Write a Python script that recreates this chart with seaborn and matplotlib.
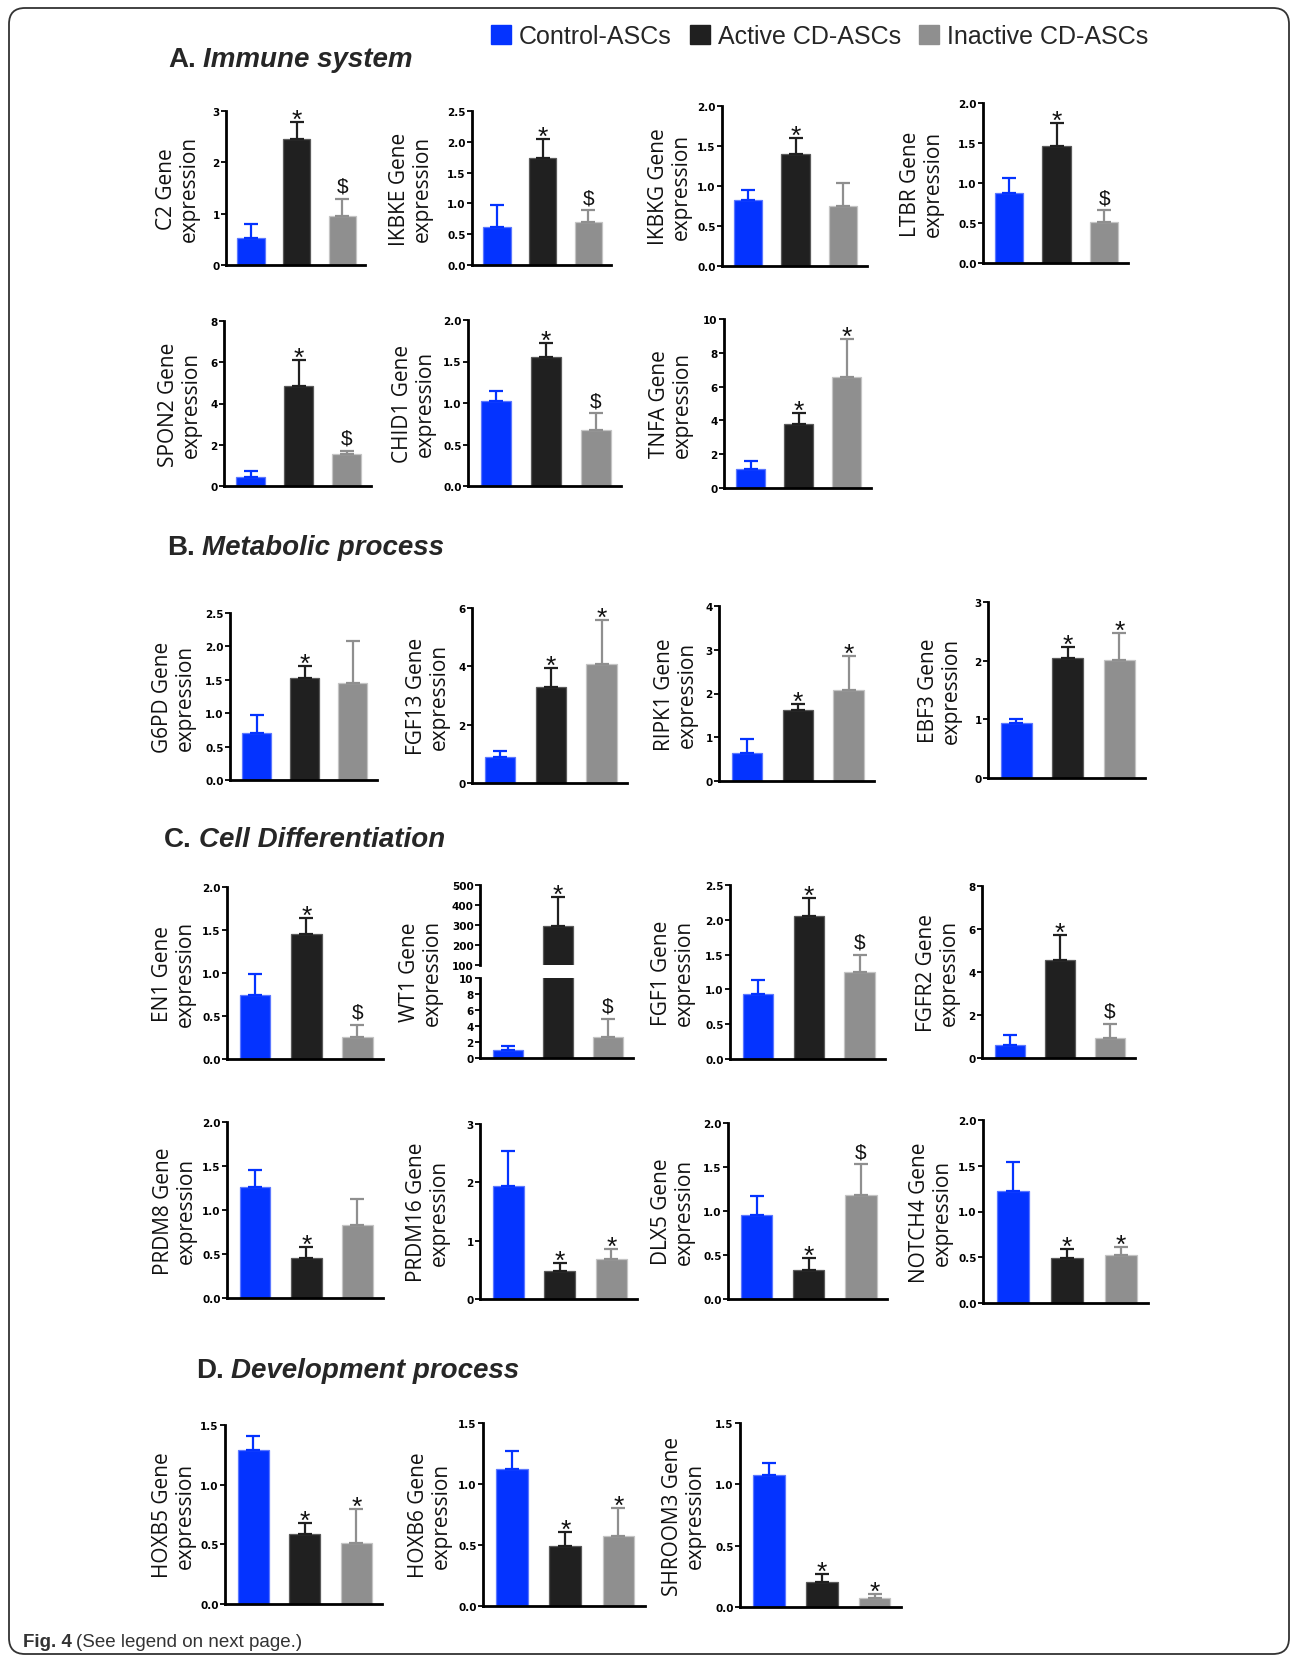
import numpy as np
import pandas as pd
import matplotlib
matplotlib.use("Agg")
import matplotlib.pyplot as plt
from matplotlib.patches import Patch, FancyBboxPatch
from matplotlib.transforms import IdentityTransform
import seaborn as sns

# ---- data -----------------------------------------------------------------
GROUPS = ["Control-ASCs", "Active CD-ASCs", "Inactive CD-ASCs"]
COLORS = ["#0433FF", "#202020", "#8F8F8F"]
EDGES = ["#5C78FF", "#5A5A5A", "#C4C4C4"]

GENES = ["C2", "IKBKE", "IKBKG", "LTBR", "SPON2", "CHID1", "TNFA",
         "G6PD", "FGF13", "RIPK1", "EBF3",
         "EN1", "WT1", "FGF1", "FGFR2",
         "PRDM8", "PRDM16", "DLX5", "NOTCH4",
         "HOXB5", "HOXB6", "SHROOM3"]

MEAN_CONTROL = [0.53, 0.62, 0.83, 0.88, 0.43, 1.03, 1.10,
                0.71, 0.88, 0.65, 0.94,
                0.74, 0.94, 0.94, 0.62,
                1.26, 1.93, 0.95, 1.22,
                1.29, 1.12, 1.08]
SEM_CONTROL = [0.26, 0.35, 0.12, 0.18, 0.28, 0.11, 0.47,
               0.27, 0.23, 0.30, 0.07,
               0.25, 0.51, 0.19, 0.45,
               0.20, 0.60, 0.22, 0.32,
               0.12, 0.15, 0.09]
MEAN_ACTIVE = [2.46, 1.74, 1.40, 1.46, 4.83, 1.55, 3.76,
               1.52, 3.29, 1.62, 2.05,
               1.45, 297.0, 2.06, 4.57,
               0.45, 0.48, 0.33, 0.49,
               0.59, 0.49, 0.20]
SEM_ACTIVE = [0.33, 0.31, 0.20, 0.29, 1.27, 0.17, 0.65,
              0.18, 0.66, 0.14, 0.18,
              0.19, 143.0, 0.26, 1.16,
              0.13, 0.13, 0.14, 0.10,
              0.09, 0.12, 0.07]
MEAN_INACTIVE = [0.96, 0.69, 0.75, 0.51, 1.53, 0.67, 6.54,
                 1.45, 4.09, 2.07, 2.01,
                 0.26, 2.68, 1.25, 0.91,
                 0.83, 0.68, 1.18, 0.52,
                 0.51, 0.57, 0.07]
SEM_INACTIVE = [0.33, 0.20, 0.29, 0.15, 0.18, 0.21, 2.30,
                0.63, 1.51, 0.78, 0.47,
                0.14, 2.21, 0.25, 0.68,
                0.30, 0.17, 0.35, 0.09,
                0.29, 0.23, 0.04]
MARK_ACTIVE = ["*"] * 22
MARK_INACTIVE = ["$", "$", "", "$", "$", "$", "*",
                 "", "*", "*", "*",
                 "$", "$", "$", "$",
                 "", "*", "$", "*",
                 "*", "*", "*"]

Y_MAX = [3, 2.5, 2, 2, 8, 2, 10,
         2.5, 6, 4, 3,
         2, 10, 2.5, 8,
         2, 3, 2, 2,
         1.5, 1.5, 1.5]
Y_STEP = [1, 0.5, 0.5, 0.5, 2, 0.5, 2,
          0.5, 2, 1, 1,
          0.5, 2, 0.5, 2,
          0.5, 1, 0.5, 0.5,
          0.5, 0.5, 0.5]
WT1_UPPER_TICKS = [100, 200, 300, 400, 500]

SECTIONS = [("A.", "Immune system"), ("B.", "Metabolic process"),
            ("C.", "Cell Differentiation"), ("D.", "Development process")]

# ---- layout (pixels on a 1293 x 1658 canvas) ------------------------------
W, H = 1293, 1658
# left, right, top, bottom of each plot area, and x of its y-label centre
BOXES = {
    "C2": (226, 365, 112, 266, 178), "IKBKE": (472, 611, 112, 266, 411),
    "IKBKG": (722, 867, 107, 267, 670), "LTBR": (983, 1128, 104, 264, 922),
    "SPON2": (224, 371, 322, 487, 180), "CHID1": (468, 621, 321, 487, 414),
    "TNFA": (724, 871, 320, 489, 671),
    "G6PD": (230, 377, 614, 781, 174), "FGF13": (472, 627, 609, 784, 428),
    "RIPK1": (719, 874, 607, 782, 676), "EBF3": (988, 1145, 603, 779, 940),
    "EN1": (227, 383, 888, 1060, 174), "WT1": (480, 633, 886, 1059, 421),
    "FGF1": (730, 885, 886, 1060, 673), "FGFR2": (982, 1135, 887, 1059, 938),
    "PRDM8": (227, 383, 1123, 1299, 175), "PRDM16": (480, 637, 1125, 1300, 428),
    "DLX5": (728, 887, 1124, 1300, 673), "NOTCH4": (983, 1148, 1121, 1304, 931),
    "HOXB5": (225, 382, 1426, 1605, 174), "HOXB6": (483, 645, 1424, 1607, 430),
    "SHROOM3": (740, 901, 1424, 1608, 684),
}
WT1_SPLIT = (966, 979)   # bottom of upper part, top of lower part
SECTION_POS = [(168, 60), (167, 548), (164, 840), (196, 1371)]

sns.set_style("ticks")
plt.rcParams["font.family"] = ["Liberation Sans", "DejaVu Sans"]

fig = plt.figure(figsize=(W / 100, H / 100), dpi=100)


def rect(l, r, t, b):
    return [l / W, 1 - b / H, (r - l) / W, (b - t) / H]


def style_axes(ax, bottom_spine=True):
    sns.despine(ax=ax)
    for side in ("left", "bottom"):
        ax.spines[side].set_linewidth(2.0)
        ax.spines[side].set_color("black")
    ax.spines["bottom"].set_visible(bottom_spine)
    ax.tick_params(axis="y", length=3.5, width=1.3, labelsize=7.5,
                   pad=1, colors="black")
    ax.tick_params(axis="x", bottom=False, labelbottom=False)
    for lab in ax.get_yticklabels():
        lab.set_fontweight("bold")
        lab.set_family("DejaVu Sans")
    ax.set_xlabel("")
    ax.set_ylabel("")
    ax.set_xlim(-0.55, 2.5)


def draw_bars(ax, means, sems, marks):
    df = pd.DataFrame({"group": GROUPS, "value": means})
    sns.barplot(data=df, x="group", y="value", hue="group", order=GROUPS,
                hue_order=GROUPS, palette=COLORS, width=0.6, errorbar=None,
                legend=False, ax=ax, linewidth=0.9, saturation=1)
    for patch, ec in zip(ax.patches, EDGES):
        patch.set_edgecolor(ec)
    for i, (m, s, c, mk) in enumerate(zip(means, sems, COLORS, marks)):
        ax.errorbar(i, m, yerr=[[0], [s]], fmt="none", ecolor=c,
                    elinewidth=1.6, capsize=5, capthick=1.6, zorder=1)
        if mk:
            off = -3.5 if mk == "*" else 5.0
            size = 19 if mk == "*" else 15
            ax.annotate(mk, xy=(i, m + s), xytext=(0, off),
                        textcoords="offset points", ha="center",
                        va="baseline", fontsize=size, color="#111111")


def fmt_ticks(ax, ymax, step):
    ticks = np.arange(0, ymax + step / 2, step)
    ax.set_yticks(ticks)
    if float(step).is_integer():
        ax.set_yticklabels([f"{t:.0f}" for t in ticks])
    else:
        ax.set_yticklabels([f"{t:.1f}" for t in ticks])
    ax.set_ylim(0, ymax)


for k, gene in enumerate(GENES):
    l, r, t, b, lx = BOXES[gene]
    means = [MEAN_CONTROL[k], MEAN_ACTIVE[k], MEAN_INACTIVE[k]]
    sems = [SEM_CONTROL[k], SEM_ACTIVE[k], SEM_INACTIVE[k]]
    marks = ["", MARK_ACTIVE[k], MARK_INACTIVE[k]]
    if gene == "WT1":
        ax_hi = fig.add_axes(rect(l, r, t, WT1_SPLIT[0]))
        ax_lo = fig.add_axes(rect(l, r, WT1_SPLIT[1], b))
        for ax in (ax_hi, ax_lo):
            draw_bars(ax, means, sems, marks)
        ax_hi.set_yticks(WT1_UPPER_TICKS)
        ax_hi.set_yticklabels([str(v) for v in WT1_UPPER_TICKS])
        ax_hi.set_ylim(WT1_UPPER_TICKS[0], WT1_UPPER_TICKS[-1])
        fmt_ticks(ax_lo, Y_MAX[k], Y_STEP[k])
        style_axes(ax_hi, bottom_spine=False)
        style_axes(ax_lo)
    else:
        ax = fig.add_axes(rect(l, r, t, b))
        draw_bars(ax, means, sems, marks)
        fmt_ticks(ax, Y_MAX[k], Y_STEP[k])
        style_axes(ax)
    fig.text(lx / W, 1 - (t + b) / 2 / H, f"{gene} Gene\nexpression",
             rotation=90, ha="center", va="center", fontsize=15,
             family=["Open Sans", "DejaVu Sans"], linespacing=1.15,
             color="#111111")

# section headings: bold letter followed by a bold-italic name
renderer = fig.canvas.get_renderer()
for (letter, name), (x, y) in zip(SECTIONS, SECTION_POS):
    t1 = fig.text(x / W, 1 - y / H, letter, fontsize=20, fontweight="bold",
                  ha="left", va="center")
    bb = t1.get_window_extent(renderer)
    fig.text((bb.x1 + 7) / W, 1 - y / H, name, fontsize=20,
             fontweight="bold", fontstyle="italic", ha="left", va="center")

# legend across the top
handles = [Patch(facecolor=c, edgecolor=c) for c in COLORS]
fig.legend(handles, GROUPS, loc="center left",
           bbox_to_anchor=(491 / W, 1 - 37 / H), ncol=3, fontsize=18,
           frameon=False, handlelength=0.8, handleheight=0.8,
           handletextpad=0.3, columnspacing=0.75, borderpad=0,
           borderaxespad=0)

# caption
cap = fig.text(23 / W, 1 - 1647 / H, "Fig. 4", fontsize=13.5,
               fontweight="bold", ha="left", va="baseline", color="#333333")
bb = cap.get_window_extent(renderer)
fig.text((bb.x1 + 4) / W, 1 - 1647 / H, "(See legend on next page.)",
         fontsize=13.5, ha="left", va="baseline", color="#333333")

# rounded frame around the figure
frame = FancyBboxPatch((9, 3), W - 13, H - 12,
                       boxstyle="round,pad=0,rounding_size=16",
                       transform=IdentityTransform(), fill=False,
                       edgecolor="#333333", linewidth=1.3)
fig.patches.append(frame)

fig.savefig("out.png", dpi=100)
